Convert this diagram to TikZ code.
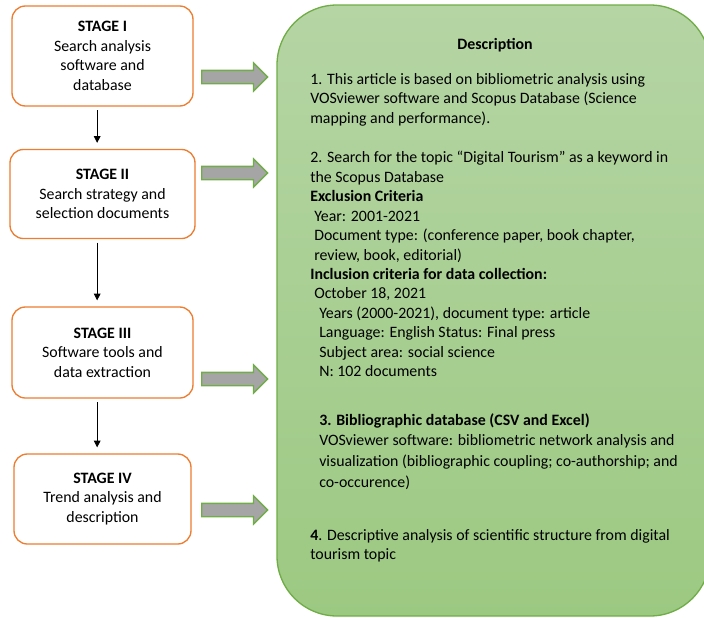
\documentclass[tikz,border=0pt]{standalone}
\usepackage{fontspec}
\setmainfont{Carlito}
\usepackage{xcolor}
\usetikzlibrary{shapes.arrows,arrows.meta,positioning}
\definecolor{stageorange}{HTML}{ED7D31}
\definecolor{boxgreen}{HTML}{70AD47}
\definecolor{arrowgray}{HTML}{A5A5A5}
\definecolor{paneltop}{HTML}{B5D5A4}
\definecolor{panelbot}{HTML}{9CC982}
\newcommand\bodyfont{\fontsize{11.9}{14.6}\selectfont}

\begin{document}
\begin{tikzpicture}[x=0.75pt,y=-0.75pt,
  stagebox/.style={draw=stageorange,line width=1pt,rounded corners=10pt,fill=white,
    align=center,font=\bodyfont,inner sep=0pt},
  bigarrow/.style={single arrow,draw=boxgreen,fill=arrowgray,line width=1pt,
    minimum height=49.5pt,single arrow head extend=5.6pt,inner xsep=0pt,inner ysep=4.5pt},
  down/.style={-{Triangle[length=5pt,width=5pt]},line width=0.6pt,
    shorten <=2.5pt,shorten >=4.5pt},
  desctext/.style={anchor=north west,align=left,inner sep=0pt,font=\bodyfont}]

\useasboundingbox (0,0) rectangle (704,618);

% description panel
\begin{scope}
\clip (0,0) rectangle (704,618);
\shade[top color=paneltop,bottom color=panelbot,draw=boxgreen,line width=1pt,
  rounded corners=45pt] (277,5) rectangle (710,616);
\end{scope}

% stages
\node[stagebox,minimum width=135.75pt,minimum height=75pt] (stageI) at (102.5,56)
  {\textbf{STAGE I}\\Search analysis\\software and\\database};
\node[stagebox,minimum width=138.75pt,minimum height=66.75pt] (stageII) at (102.5,194)
  {\textbf{STAGE II}\\Search strategy and\\selection documents};
\node[stagebox,minimum width=135.75pt,minimum height=68.25pt] (stageIII) at (102.5,352.5)
  {\textbf{STAGE III}\\Software tools and\\data extraction};
\node[stagebox,minimum width=132.75pt,minimum height=67.5pt] (stageIV) at (102.5,499)
  {\textbf{STAGE IV}\\Trend analysis and\\description};

\draw[down] ([xshift=-4pt]stageI.south) -- ([xshift=-4pt]stageII.north);
\draw[down] ([xshift=-4pt]stageII.south) -- ([xshift=-4pt]stageIII.north);
\draw[down] ([xshift=-4pt]stageIII.south) -- ([xshift=-4pt]stageIV.north);

% block arrows
\node[bigarrow,anchor=west] (arrI) at (201,77) {};
\node[bigarrow,anchor=west] (arrII) at (201,173) {};
\node[bigarrow,anchor=west] (arrIII) at (201,379) {};
\node[bigarrow,anchor=west] (arrIV) at (201,510) {};

% panel text
\node[font=\bodyfont\bfseries] (desc) at (495,45) {Description};
\node[desctext] (descA) at (310,73)
  {1. This article is based on bibliometric analysis using\\
   VOSviewer software and Scopus Database (Science\\
   mapping and performance).};
\node[desctext] (descB) at (310,151)
  {2. Search for the topic “Digital Tourism” as a keyword in\\
   the Scopus Database\\
   \textbf{Exclusion Criteria}\\
   \hspace*{3pt}Year: 2001-2021\\
   \hspace*{3pt}Document type: (conference paper, book chapter,\\
   \hspace*{3pt}review, book, editorial)\\
   \textbf{Inclusion criteria for data collection:}\\
   \hspace*{3pt}October 18, 2021\\
   \hspace*{6.75pt}Years (2000-2021), document type: article\\
   \hspace*{6.75pt}Language: English Status: Final press\\
   \hspace*{6.75pt}Subject area: social science\\
   \hspace*{6.75pt}N: 102 documents};
\node[desctext,font=\fontsize{11.9}{15.6}\selectfont] (descC) at (319,413)
  {\textbf{3. Bibliographic database (CSV and Excel)}\\
   VOSviewer software: bibliometric network analysis and\\
   visualization (bibliographic coupling; co-authorship; and\\
   co-occurence)};
\node[desctext] (descD) at (310,529)
  {\textbf{4}. Descriptive analysis of scientific structure from digital\\
   tourism topic};

\end{tikzpicture}
\end{document}
